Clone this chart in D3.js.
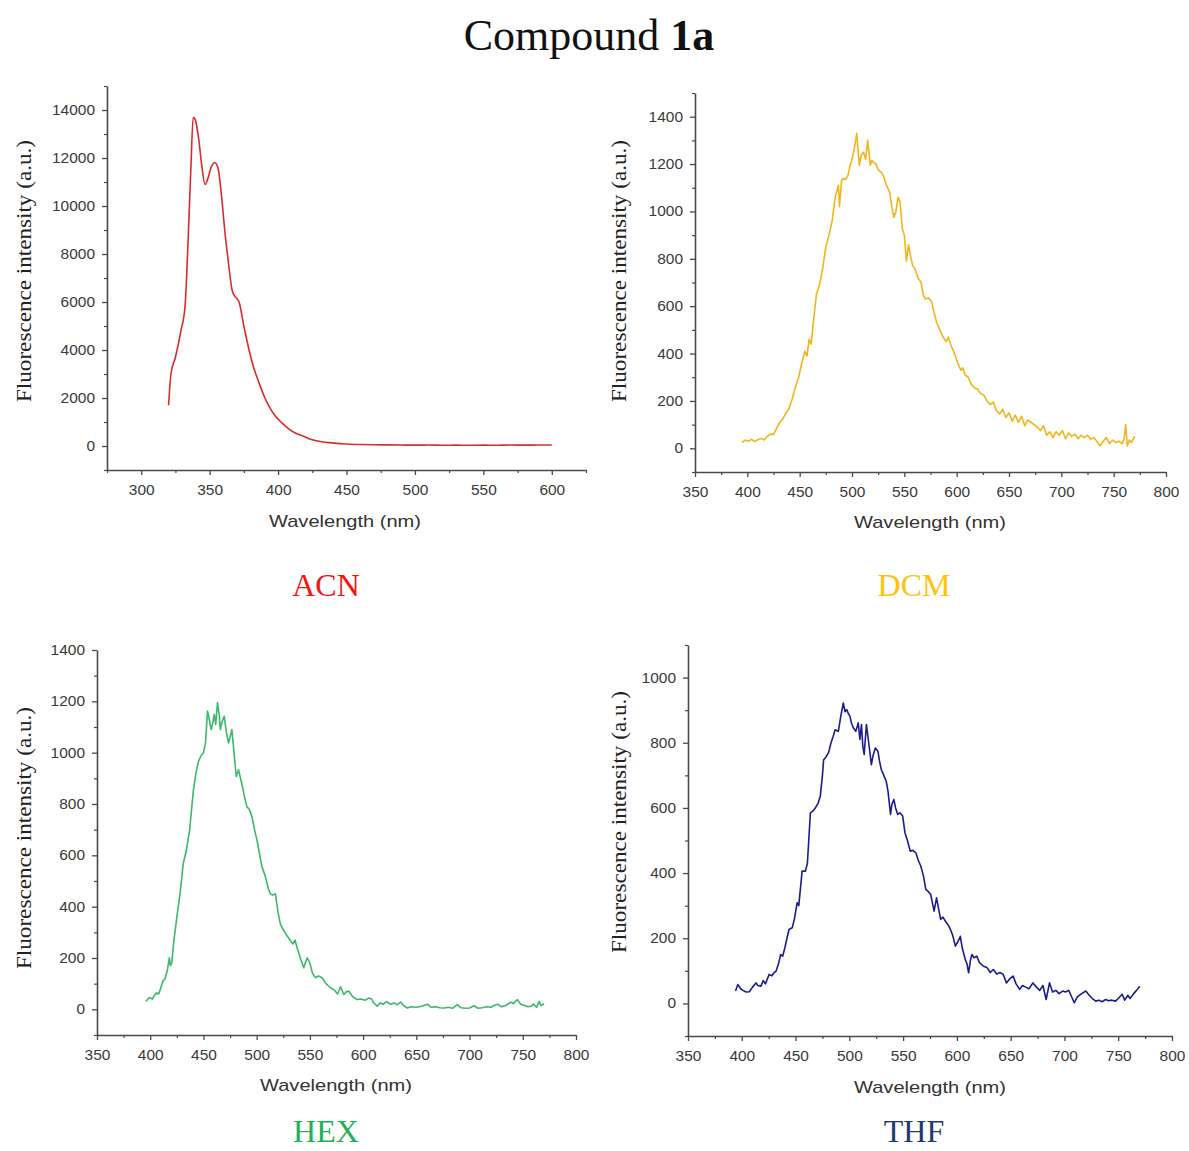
<!DOCTYPE html>
<html><head><meta charset="utf-8">
<script src="https://cdn.jsdelivr.net/npm/d3@7"></script>
<style>body{margin:0;background:#fff}</style>
</head><body>
<svg id="c" width="1189" height="1151"></svg>
<script>
// ---------- DATA ----------
const acnWavelength = [320,321.7,325,329,332,334.5,336.3,338,339.5,342,344,346.7,349,351,353.8,356,359.4,361,363.5,366.6,369,371.5,375,378.8,382,386,390,393.4,398,403,408,412.9,418,425,431,437,445,452,460,470,480,490,500,510,520,530,540,550,560,570,580,590,600];
const acnIntensity  = [1700,3000,3700,4800,5800,8900,11600,13700,13600,12800,11800,10900,11200,11600,11800,11600,10000,9000,7750,6450,6200,6000,5000,4000,3300,2650,2050,1650,1250,950,700,530,420,260,190,140,100,70,60,50,45,40,35,40,30,35,30,35,30,40,35,40,40];

const dcmWavelength = [395,398,401,404,407,410,413,416,419,422,425,428,431,434,437,440,443,446,449,452,455,457,459,461,463,466,469,472,475,478,481,484,487,488,490,492,494,496,498,500,502,504.5,507,509,511,513,515,517.5,519,521,523,525,528,530,533,536,538,540,542,544,546,548,550,552,554,556,558,560,563,566,568,570,573,576,578,581,584,587,590,592,595,598,601,604,606,608,611,614,617,620,623,626,629,632,635,638,641,644,647,650,653,656,659,662,665,668,671,674,677,680,683,686,689,692,695,698,701,704,707,710,713,716,719,722,725,728,731,734,737,740,743,746,749,752,755,758,760,761.5,763,765,767,770];
const dcmIntensity  = [25,35,30,38,28,36,42,35,50,60,58,85,110,125,150,170,210,260,300,360,410,390,460,440,530,650,690,760,850,900,960,1060,1110,1020,1130,1140,1135,1150,1190,1220,1260,1330,1195,1240,1250,1220,1300,1195,1215,1205,1200,1175,1165,1150,1110,1080,1020,975,1000,1060,1040,930,900,790,860,810,770,760,720,700,650,630,635,620,580,530,500,470,450,470,430,400,360,330,340,310,300,270,255,250,230,225,200,185,195,160,145,165,130,150,115,140,110,135,95,120,110,100,90,75,95,55,70,45,70,55,75,40,65,50,60,40,55,45,55,38,45,30,10,30,45,20,35,25,30,20,40,100,10,35,25,50];

const hexWavelength = [396,399,402,404,406,408,410,412,414,416,418,419,420.3,422,425,428,431,434,437,440.6,443,445.3,448,450,452,453.8,455,457.3,459,460.1,461.5,463.2,465,465.8,467.5,469.5,471.5,473.6,475,476.7,478.5,480.8,483,486,489,490.9,493,495.6,498,500.3,502,505,508,511,512.9,515,517.6,520,522.3,525,528,531.7,534,536,538,541,544.2,547.4,550,552.5,555.2,558,561.5,565,569.4,573,576,578.8,581.9,584,586.6,590,594.4,598,602,605,608,610,613.3,616,619,622,625.8,629,632,635.3,638,641.5,645,650,655,660.4,664,668,672,676,680,684,688.6,692,696,700,704.3,708,712,716,720,723,726.3,730,734,738.8,741,745,748,752,755,757.6,760,763,765.4,767,770];
const hexIntensity  = [31,45,40,55,64,60,85,110,120,150,201,170,182,260,358,450,567,620,698,855,920,966,990,999,1040,1162,1140,1090,1120,1149,1110,1195,1140,1090,1120,1142,1080,1038,1060,1090,1010,907,933,880,820,789,780,750,700,659,620,555,520,470,450,445,450,380,332,310,290,267,255,270,240,200,162,201,180,140,123,130,123,100,84,75,60,88,58,68,71,50,38,40,35,44,40,25,12,25,20,30,20,25,18,28,15,5,10,8,12,20,8,10,6,5,8,4,18,6,4,5,14,4,6,10,8,15,20,10,15,28,22,38,20,15,10,12,20,8,31,15,22];

const thfWavelength = [394.2,396.3,399,401,404,407,410,413.2,415,417.8,420,422,425.4,428,430,432,434,436.2,438,440,442,443.9,446.9,449,451.5,453,456.1,459.2,461,463.8,466,468.4,471,473,475,476.1,478,480.6,483,485,486.8,489.8,492,494.4,496,497.5,499,500.6,502,503.7,506,508.3,509.8,511.3,512.5,513.8,515.9,518,520.5,522,524.2,526.6,528,529.7,532,534.3,536,538.3,539.5,541.4,543,545,547,549.6,551.7,554,556.7,559,561.9,564,566.5,569,571.1,573,575.7,578.8,581.1,583,584.9,587,589.4,592,594,596,598.6,601,603.2,605,607.8,609.5,610.9,612.5,613.9,616,618.5,621,624.7,628,631,633.9,637,640,643.1,646.1,649,652.3,655,658.4,661,664,667,670.7,674,677,680,683,686.1,689,692,695,698.4,701,704,706,709.1,712,716,719.9,723,726,729.1,732,735,738.3,741,744,747.5,750,753.7,756,759,761,764.4,767,770];
const thfIntensity  = [38,58,45,40,35,36,50,63,55,53,70,60,89,85,94,100,120,150,145,170,200,227,232,260,309,300,406,406,430,585,590,600,615,636,700,748,755,769,800,820,840,835,880,922,895,902,890,881,860,846,835,861,810,856,790,764,856,800,733,760,784,774,745,718,700,682,650,580,610,626,600,580,585,575,524,500,467,470,462,440,421,390,350,345,334,283,324,290,258,265,252,240,227,210,176,190,206,170,135,120,94,130,150,140,145,125,114,110,95,104,90,95,89,63,75,84,60,43,55,50,45,63,50,40,55,12,63,35,40,30,38,35,40,25,2,20,30,38,25,15,7,10,5,12,8,10,7,15,28,10,25,15,30,40,53];

const acnXTicks = [300,350,400,450,500,550,600];
const acnYTicks = [0,2000,4000,6000,8000,10000,12000,14000];
const dcmXTicks = [350,400,450,500,550,600,650,700,750,800];
const dcmYTicks = [0,200,400,600,800,1000,1200,1400];
const hexXTicks = [350,400,450,500,550,600,650,700,750,800];
const hexYTicks = [0,200,400,600,800,1000,1200,1400];
const thfXTicks = [350,400,450,500,550,600,650,700,750,800];
const thfYTicks = [0,200,400,600,800,1000];

const solventNames = ["ACN","DCM","HEX","THF"];
const titleMain = "Compound ";
const titleBold = "1a";
const xTitle = "Wavelength (nm)";
const yTitle = "Fluorescence intensity (a.u.)";

// ---------- LAYOUT ----------
const panels = [
  {name:solventNames[0], xs:acnWavelength, ys:acnIntensity, xTicks:acnXTicks, yTicks:acnYTicks, smooth:true,
   xDomain:[275,625], yDomain:[-1000,15000], left:107, right:586, top:86, bottom:470,
   line:"#dc2b2e", labelColor:"#f41414", labelX:326, labelY:596, xTitleX:345, xTitleY:527, yTitleX:31, yTitleY:271},
  {name:solventNames[1], xs:dcmWavelength, ys:dcmIntensity, xTicks:dcmXTicks, yTicks:dcmYTicks, smooth:false,
   xDomain:[350,800], yDomain:[-100,1500], left:695, right:1166, top:93, bottom:472,
   line:"#f3b51c", labelColor:"#ffc20e", labelX:914, labelY:596, xTitleX:930, xTitleY:528, yTitleX:626, yTitleY:271},
  {name:solventNames[2], xs:hexWavelength, ys:hexIntensity, xTicks:hexXTicks, yTicks:hexYTicks, smooth:false,
   xDomain:[350,800], yDomain:[-100,1400], left:97, right:576, top:650, bottom:1035,
   line:"#3cb96a", labelColor:"#1fb257", labelX:326, labelY:1142, xTitleX:336, xTitleY:1091, yTitleX:31, yTitleY:838},
  {name:solventNames[3], xs:thfWavelength, ys:thfIntensity, xTicks:thfXTicks, yTicks:thfYTicks, smooth:false,
   xDomain:[350,800], yDomain:[-100,1100], left:688, right:1172, top:645, bottom:1036,
   line:"#1c1c8e", labelColor:"#1f3a6e", labelX:914, labelY:1142, xTitleX:930, xTitleY:1093, yTitleX:626, yTitleY:822}
];

const svg = d3.select('#c');
svg.append('rect').attr('width',1189).attr('height',1151).attr('fill','#fff');

// title
const t = svg.append('text').attr('x',589).attr('y',50).attr('text-anchor','middle')
  .attr('font-family','"Liberation Serif","Times New Roman",serif').attr('font-size',44).attr('fill','#111');
t.append('tspan').text(titleMain);
t.append('tspan').attr('font-weight','bold').text(titleBold);

function styleAxis(sel){
  sel.select('.domain').attr('stroke','#4a4a4a').attr('stroke-width',1.6);
  sel.selectAll('.tick line').attr('stroke','#4a4a4a').attr('stroke-width',1.3);
  sel.selectAll('.tick text').attr('font-family','"Liberation Sans",Arial,sans-serif')
    .attr('font-size',14).attr('fill','#3a3a3a')
    .attr('textLength',function(){return this.textContent.length*8.6;})
    .attr('lengthAdjust','spacingAndGlyphs');
}

panels.forEach(p=>{
  const x = d3.scaleLinear().domain(p.xDomain).range([p.left,p.right]);
  const y = d3.scaleLinear().domain(p.yDomain).range([p.bottom,p.top]);
  const g = svg.append('g');
  const xStep = p.xTicks[1]-p.xTicks[0], yStep = p.yTicks[1]-p.yTicks[0];
  const xMinor = d3.range(p.xTicks[0]-xStep/2, p.xDomain[1]+0.001, xStep).filter(v=>v>=p.xDomain[0]-0.001);
  const yMinor = d3.range(p.yTicks[0]-yStep/2, p.yDomain[1]+0.001, yStep).filter(v=>v>=p.yDomain[0]-0.001);

  g.append('g').attr('transform',`translate(0,${p.bottom})`)
    .call(d3.axisBottom(x).tickValues(xMinor).tickSize(3).tickFormat(''))
    .call(s=>{s.select('.domain').remove(); s.selectAll('.tick line').attr('stroke','#4a4a4a').attr('stroke-width',1.2);});
  g.append('g').attr('transform',`translate(${p.left},0)`)
    .call(d3.axisLeft(y).tickValues(yMinor).tickSize(3).tickFormat(''))
    .call(s=>{s.select('.domain').remove(); s.selectAll('.tick line').attr('stroke','#4a4a4a').attr('stroke-width',1.2);});

  g.append('g').attr('transform',`translate(0,${p.bottom})`)
    .call(d3.axisBottom(x).tickValues(p.xTicks).tickSize(5).tickPadding(10).tickSizeOuter(0).tickFormat(d3.format('d')))
    .call(styleAxis);
  g.append('g').attr('transform',`translate(${p.left},0)`)
    .call(d3.axisLeft(y).tickValues(p.yTicks).tickSize(5).tickPadding(7).tickSizeOuter(0).tickFormat(d3.format('d')))
    .call(styleAxis);

  const data = p.xs.map((w,i)=>[w,p.ys[i]]);
  const lineGen = d3.line().x(d=>x(d[0])).y(d=>y(d[1]));
  if (p.smooth) lineGen.curve(d3.curveMonotoneX);
  g.append('path').datum(data)
    .attr('d', lineGen)
    .attr('fill','none').attr('stroke',p.line).attr('stroke-width',1.6).attr('stroke-linejoin','round');

  g.append('text').attr('x',p.xTitleX).attr('y',p.xTitleY).attr('text-anchor','middle')
    .attr('font-family','"Liberation Sans",Arial,sans-serif').attr('font-size',17).attr('fill','#333')
    .attr('textLength',152).attr('lengthAdjust','spacingAndGlyphs').text(xTitle);
  g.append('text').attr('transform',`translate(${p.yTitleX},${p.yTitleY}) rotate(-90)`).attr('text-anchor','middle')
    .attr('font-family','"Liberation Serif","Times New Roman",serif').attr('font-size',21).attr('fill','#222')
    .attr('textLength',262).attr('lengthAdjust','spacingAndGlyphs').text(yTitle);

  svg.append('text').attr('x',p.labelX).attr('y',p.labelY).attr('text-anchor','middle')
    .attr('font-family','"Liberation Serif","Times New Roman",serif').attr('font-size',32).attr('fill',p.labelColor)
    .text(p.name);
});
</script>
</body></html>
